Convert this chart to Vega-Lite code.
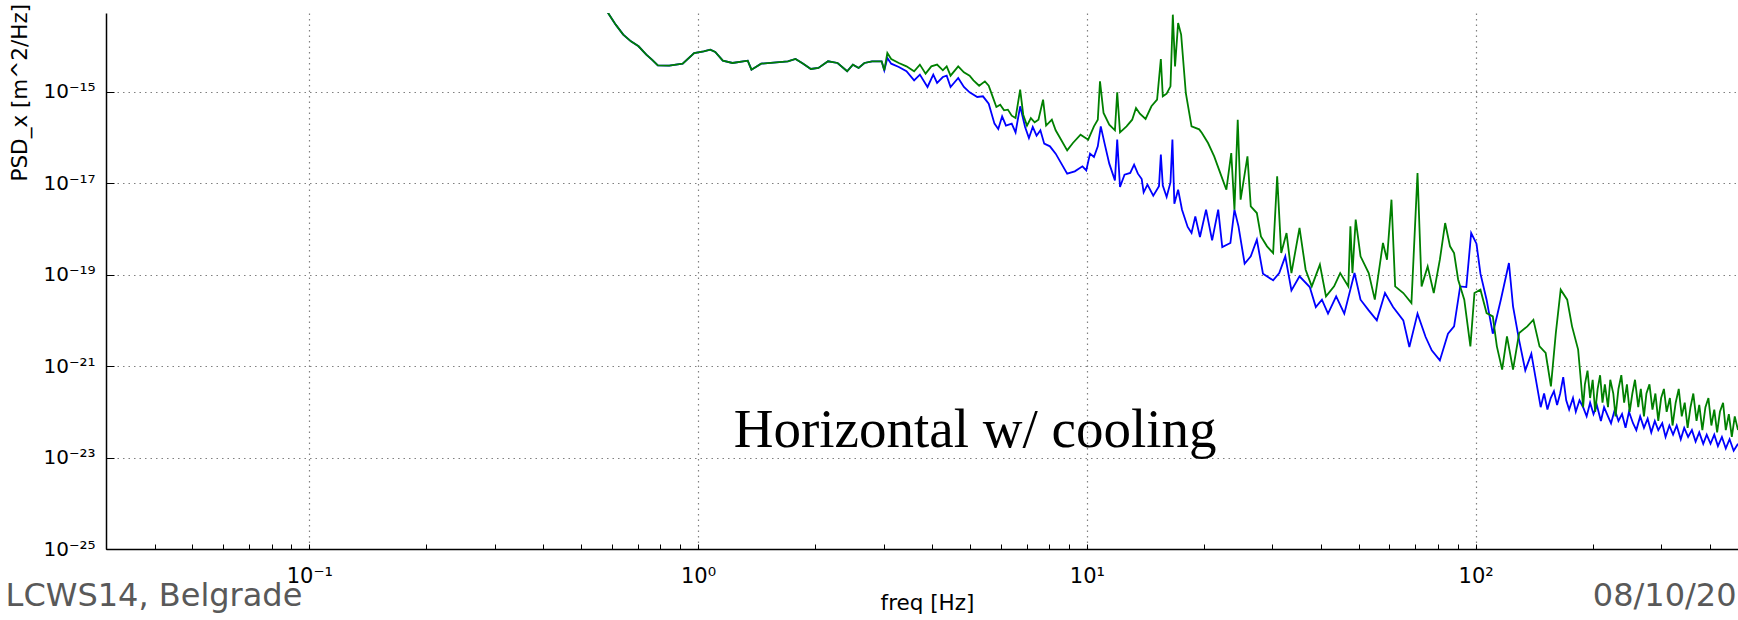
{
"$schema": "https://vega.github.io/schema/vega-lite/v6.json",
"width": 1632, "height": 536,
"autosize": {"type": "none"},
"padding": {"left": 106, "top": 13, "right": 0, "bottom": 71},
"background": "white",
"config": {"view": {"stroke": null}},
"datasets": {"psd": [
{"s":"c","f":0.567,"p":9.46e-14},{"s":"c","f":0.587,"p":5.25e-14},{"s":"c","f":0.614,"p":2.92e-14},{"s":"c","f":0.642,"p":1.77e-14},{"s":"c","f":0.672,"p":1.26e-14},{"s":"c","f":0.703,"p":9.82e-15},{"s":"c","f":0.736,"p":6.45e-15},{"s":"c","f":0.761,"p":5.01e-15},{"s":"c","f":0.788,"p":3.77e-15},{"s":"c","f":0.843,"p":3.71e-15},{"s":"c","f":0.913,"p":4.09e-15},{"s":"c","f":0.977,"p":7.01e-15},{"s":"c","f":1.034,"p":7.62e-15},{"s":"c","f":1.075,"p":8.30e-15},{"s":"c","f":1.107,"p":7.38e-15},{"s":"c","f":1.158,"p":4.77e-15},{"s":"c","f":1.226,"p":4.24e-15},{"s":"c","f":1.342,"p":4.77e-15},{"s":"c","f":1.372,"p":3.03e-15},{"s":"c","f":1.453,"p":4.09e-15},{"s":"c","f":1.590,"p":4.38e-15},{"s":"c","f":1.702,"p":4.61e-15},{"s":"c","f":1.781,"p":5.19e-15},{"s":"c","f":1.864,"p":4.09e-15},{"s":"c","f":1.950,"p":3.13e-15},{"s":"c","f":2.040,"p":3.30e-15},{"s":"c","f":2.159,"p":4.61e-15},{"s":"c","f":2.285,"p":4.24e-15},{"s":"c","f":2.418,"p":2.79e-15},{"s":"c","f":2.502,"p":3.90e-15},{"s":"c","f":2.588,"p":3.30e-15},{"s":"c","f":2.678,"p":4.24e-15},{"s":"c","f":2.803,"p":4.61e-15},{"s":"c","f":2.966,"p":4.61e-15},{"s":"c","f":3.013,"p":2.93e-15},
{"s":"g","f":3.068,"p":7.01e-15},{"s":"g","f":3.139,"p":5.19e-15},{"s":"g","f":3.284,"p":4.24e-15},{"s":"g","f":3.436,"p":3.58e-15},{"s":"g","f":3.595,"p":2.79e-15},{"s":"g","f":3.720,"p":3.90e-15},{"s":"g","f":3.848,"p":2.48e-15},{"s":"g","f":3.981,"p":3.58e-15},{"s":"g","f":4.119,"p":3.90e-15},{"s":"g","f":4.262,"p":2.93e-15},{"s":"g","f":4.360,"p":3.58e-15},{"s":"g","f":4.461,"p":2.24e-15},{"s":"g","f":4.668,"p":3.58e-15},{"s":"g","f":4.828,"p":2.65e-15},{"s":"g","f":4.994,"p":2.24e-15},{"s":"g","f":5.109,"p":1.77e-15},{"s":"g","f":5.284,"p":1.35e-15},{"s":"g","f":5.467,"p":1.68e-15},{"s":"g","f":5.592,"p":1.35e-15},{"s":"g","f":5.721,"p":7.91e-16},{"s":"g","f":5.852,"p":4.62e-16},{"s":"g","f":5.987,"p":5.20e-16},{"s":"g","f":6.124,"p":3.91e-16},{"s":"g","f":6.264,"p":4.05e-16},{"s":"g","f":6.409,"p":2.99e-16},{"s":"g","f":6.556,"p":2.65e-16},{"s":"g","f":6.737,"p":1.107e-15},{"s":"g","f":6.861,"p":3.14e-16},{"s":"g","f":7.015,"p":1.81e-16},{"s":"g","f":7.177,"p":2.65e-16},{"s":"g","f":7.341,"p":2.14e-16},{"s":"g","f":7.508,"p":2.44e-16},{"s":"g","f":7.716,"p":6.68e-16},{"s":"g","f":7.856,"p":1.81e-16},{"s":"g","f":8.128,"p":2.44e-16},{"s":"g","f":8.314,"p":1.43e-16},{"s":"g","f":8.506,"p":1.02e-16},{"s":"g","f":8.900,"p":5.21e-17},{"s":"g","f":9.207,"p":7.55e-17},{"s":"g","f":9.634,"p":1.148e-16},{"s":"g","f":10.08,"p":8.93e-17},{"s":"g","f":10.43,"p":1.746e-16},{"s":"g","f":10.67,"p":2.44e-16},{"s":"g","f":10.81,"p":1.68e-15},{"s":"g","f":11.04,"p":3.42e-16},{"s":"g","f":11.42,"p":1.90e-16},{"s":"g","f":11.81,"p":1.43e-16},{"s":"g","f":11.97,"p":9.68e-16},{"s":"g","f":12.17,"p":1.29e-16},{"s":"g","f":12.65,"p":1.746e-16},{"s":"g","f":13.08,"p":2.44e-16},{"s":"g","f":13.38,"p":4.40e-16},{"s":"g","f":13.69,"p":3.30e-16},{"s":"g","f":14.16,"p":2.53e-16},{"s":"g","f":14.66,"p":4.79e-16},{"s":"g","f":15.16,"p":6.68e-16},{"s":"g","f":15.50,"p":5.19e-15},{"s":"g","f":15.68,"p":7.91e-16},{"s":"g","f":16.04,"p":9.04e-16},{"s":"g","f":16.41,"p":1.31e-15},{"s":"g","f":16.64,"p":4.83e-14},{"s":"g","f":16.86,"p":3.58e-15},{"s":"g","f":17.17,"p":3.18e-14},{"s":"g","f":17.48,"p":1.766e-14},{"s":"g","f":17.97,"p":9.35e-16},{"s":"g","f":18.59,"p":1.746e-16},{"s":"g","f":19.45,"p":1.5e-16},{"s":"g","f":19.77,"p":1.25e-16},{"s":"g","f":20.50,"p":7.53e-17},{"s":"g","f":21.26,"p":3.85e-17},{"s":"g","f":22.04,"p":1.66e-17},{"s":"g","f":22.85,"p":7.19e-18},{"s":"g","f":23.52,"p":4.56e-17},{"s":"g","f":23.97,"p":2.63e-18},{"s":"g","f":24.44,"p":2.44e-16},{"s":"g","f":24.86,"p":4.35e-18},{"s":"g","f":25.89,"p":3.85e-17},{"s":"g","f":26.40,"p":3.11e-18},{"s":"g","f":27.37,"p":2.22e-18},{"s":"g","f":28.04,"p":6.86e-19},{"s":"g","f":29.07,"p":4.15e-19},{"s":"g","f":30.14,"p":2.96e-19},{"s":"g","f":30.87,"p":1.41e-17},{"s":"g","f":31.62,"p":2.96e-19},{"s":"g","f":32.63,"p":8.11e-19},{"s":"g","f":33.59,"p":1.08e-19},{"s":"g","f":35.24,"p":1.045e-18},{"s":"g","f":36.54,"p":1.28e-19},{"s":"g","f":37.89,"p":5.53e-20},{"s":"g","f":39.76,"p":1.65e-19},{"s":"g","f":41.22,"p":3.34e-20},{"s":"g","f":43.25,"p":5.53e-20},{"s":"g","f":44.84,"p":1.08e-19},{"s":"g","f":47.05,"p":5.53e-20},{"s":"g","f":47.63,"p":1.135e-18},{"s":"g","f":48.21,"p":1.08e-19},{"s":"g","f":49.15,"p":1.59e-18},{"s":"g","f":50.58,"p":2.51e-19},{"s":"g","f":53.09,"p":1.08e-19},{"s":"g","f":55.04,"p":2.83e-20},{"s":"g","f":57.76,"p":4.91e-19},{"s":"g","f":59.16,"p":2.12e-19},{"s":"g","f":60.75,"p":4.35e-18},{"s":"g","f":62.09,"p":5.53e-20},{"s":"g","f":65.16,"p":3.95e-20},{"s":"g","f":68.37,"p":2.39e-20},{"s":"g","f":70.88,"p":1.66e-17},{"s":"g","f":72.61,"p":5.53e-20},{"s":"g","f":75.27,"p":1.51e-19},{"s":"g","f":78.04,"p":3.95e-20},{"s":"g","f":80.91,"p":2.12e-19},{"s":"g","f":83.48,"p":1.34e-18},{"s":"g","f":85.93,"p":4.15e-19},{"s":"g","f":88.02,"p":2.96e-19},{"s":"g","f":90.17,"p":7.74e-20},{"s":"g","f":93.50,"p":2.83e-20},{"s":"g","f":96.94,"p":2.70e-21},{"s":"g","f":99.31,"p":3.95e-20},{"s":"g","f":102.9,"p":4.68e-20},{"s":"g","f":106.7,"p":1.445e-20},{"s":"g","f":110.7,"p":1.22e-20},{"s":"g","f":113.4,"p":2.70e-21},{"s":"g","f":117.0,"p":8.34e-22},{"s":"g","f":120.4,"p":4.47e-21},{"s":"g","f":124.8,"p":8.34e-22},{"s":"g","f":129.4,"p":5.28e-21},{"s":"g","f":135.8,"p":7.38e-21},{"s":"g","f":140.8,"p":1.03e-20},{"s":"g","f":146.0,"p":2.70e-21},{"s":"g","f":151.4,"p":1.93e-21},{"s":"g","f":156.2,"p":3.60e-22},{"s":"g","f":160.8,"p":5.28e-21},{"s":"g","f":165.5,"p":4.68e-20},{"s":"g","f":172.0,"p":2.83e-20},{"s":"g","f":177.0,"p":7.38e-21},{"s":"g","f":183.5,"p":2.29e-21},
{"s":"g","f":186,"p":6.31e-22},{"s":"g","f":189,"p":1.26e-22},{"s":"g","f":191,"p":3.98e-22},{"s":"g","f":194,"p":7.94e-22},{"s":"g","f":197,"p":2.0e-22},{"s":"g","f":200,"p":5.01e-22},{"s":"g","f":203,"p":1.0e-22},{"s":"g","f":206,"p":3.16e-22},{"s":"g","f":209,"p":6.31e-22},{"s":"g","f":212,"p":1.58e-22},{"s":"g","f":215,"p":3.98e-22},{"s":"g","f":219,"p":1.26e-22},{"s":"g","f":222,"p":5.01e-22},{"s":"g","f":226,"p":2.51e-22},{"s":"g","f":229,"p":7.94e-23},{"s":"g","f":233,"p":3.16e-22},{"s":"g","f":237,"p":6.31e-22},{"s":"g","f":241,"p":1.58e-22},{"s":"g","f":245,"p":3.98e-22},{"s":"g","f":249,"p":1.0e-22},{"s":"g","f":253,"p":2.51e-22},{"s":"g","f":257,"p":5.01e-22},{"s":"g","f":262,"p":1.26e-22},{"s":"g","f":266,"p":3.16e-22},{"s":"g","f":271,"p":7.94e-23},{"s":"g","f":275,"p":2.51e-22},{"s":"g","f":280,"p":3.98e-22},{"s":"g","f":285,"p":1.12e-22},{"s":"g","f":290,"p":2.51e-22},{"s":"g","f":295,"p":6.31e-23},{"s":"g","f":300,"p":2.0e-22},{"s":"g","f":305,"p":3.16e-22},{"s":"g","f":310,"p":1.0e-22},{"s":"g","f":316,"p":2.0e-22},{"s":"g","f":321,"p":5.01e-23},{"s":"g","f":327,"p":1.58e-22},{"s":"g","f":333,"p":3.16e-22},{"s":"g","f":339,"p":7.94e-23},{"s":"g","f":345,"p":1.58e-22},{"s":"g","f":351,"p":4.47e-23},{"s":"g","f":357,"p":1.26e-22},{"s":"g","f":363,"p":2.51e-22},{"s":"g","f":370,"p":6.31e-23},{"s":"g","f":376,"p":1.41e-22},{"s":"g","f":383,"p":3.98e-23},{"s":"g","f":390,"p":1.26e-22},{"s":"g","f":397,"p":2.0e-22},{"s":"g","f":404,"p":5.01e-23},{"s":"g","f":411,"p":1.12e-22},{"s":"g","f":418,"p":3.55e-23},{"s":"g","f":425,"p":1.0e-22},{"s":"g","f":433,"p":1.58e-22},{"s":"g","f":440,"p":3.98e-23},{"s":"g","f":448,"p":8.91e-23},{"s":"g","f":456,"p":2.82e-23},{"s":"g","f":464,"p":7.94e-23},{"s":"g","f":473,"p":3.98e-23},
{"s":"b","f":3.068,"p":5.45e-15},{"s":"b","f":3.139,"p":4.09e-15},{"s":"b","f":3.284,"p":3.46e-15},{"s":"b","f":3.436,"p":2.79e-15},{"s":"b","f":3.595,"p":1.77e-15},{"s":"b","f":3.720,"p":2.36e-15},{"s":"b","f":3.892,"p":1.265e-15},{"s":"b","f":4.027,"p":2.36e-15},{"s":"b","f":4.119,"p":1.55e-15},{"s":"b","f":4.262,"p":2.09e-15},{"s":"b","f":4.360,"p":2.24e-15},{"s":"b","f":4.461,"p":1.265e-15},{"s":"b","f":4.668,"p":1.99e-15},{"s":"b","f":4.828,"p":1.265e-15},{"s":"b","f":4.994,"p":9.68e-16},{"s":"b","f":5.225,"p":7.66e-16},{"s":"b","f":5.405,"p":7.91e-16},{"s":"b","f":5.592,"p":5.47e-16},{"s":"b","f":5.786,"p":2.00e-16},{"s":"b","f":5.918,"p":1.53e-16},{"s":"b","f":6.055,"p":2.89e-16},{"s":"b","f":6.194,"p":1.81e-16},{"s":"b","f":6.409,"p":2.00e-16},{"s":"b","f":6.556,"p":1.29e-16},{"s":"b","f":6.737,"p":4.79e-16},{"s":"b","f":6.937,"p":1.69e-16},{"s":"b","f":7.096,"p":9.70e-17},{"s":"b","f":7.259,"p":1.69e-16},{"s":"b","f":7.425,"p":1.09e-16},{"s":"b","f":7.595,"p":1.43e-16},{"s":"b","f":7.769,"p":7.30e-17},{"s":"b","f":8.036,"p":6.38e-17},{"s":"b","f":8.314,"p":4.41e-17},{"s":"b","f":8.601,"p":2.67e-17},{"s":"b","f":8.900,"p":1.61e-17},{"s":"b","f":9.311,"p":1.81e-17},{"s":"b","f":9.743,"p":2.33e-17},{"s":"b","f":9.966,"p":1.905e-17},{"s":"b","f":10.19,"p":4.41e-17},{"s":"b","f":10.43,"p":3.72e-17},{"s":"b","f":10.67,"p":6.38e-17},{"s":"b","f":10.86,"p":1.746e-16},{"s":"b","f":11.11,"p":7.30e-17},{"s":"b","f":11.42,"p":2.67e-17},{"s":"b","f":11.81,"p":1.15e-17},{"s":"b","f":11.97,"p":8.93e-17},{"s":"b","f":12.17,"p":8.22e-18},{"s":"b","f":12.50,"p":1.53e-17},{"s":"b","f":12.93,"p":1.67e-17},{"s":"b","f":13.23,"p":2.54e-17},{"s":"b","f":13.53,"p":1.61e-17},{"s":"b","f":13.84,"p":1.23e-17},{"s":"b","f":14.00,"p":6.29e-18},{"s":"b","f":14.32,"p":9.25e-18},{"s":"b","f":14.82,"p":5.32e-18},{"s":"b","f":15.33,"p":8.51e-18},{"s":"b","f":15.50,"p":4.20e-17},{"s":"b","f":15.68,"p":8.81e-18},{"s":"b","f":16.04,"p":4.98e-18},{"s":"b","f":16.41,"p":1.04e-17},{"s":"b","f":16.60,"p":8.93e-17},{"s":"b","f":16.79,"p":3.56e-18},{"s":"b","f":17.17,"p":7.19e-18},{"s":"b","f":17.57,"p":2.63e-18},{"s":"b","f":18.17,"p":1.10e-18},{"s":"b","f":18.59,"p":8.13e-19},{"s":"b","f":19.01,"p":1.88e-18},{"s":"b","f":19.54,"p":6.64e-19},{"s":"b","f":20.26,"p":2.63e-18},{"s":"b","f":21.00,"p":5.61e-19},{"s":"b","f":21.77,"p":2.63e-18},{"s":"b","f":22.30,"p":4.01e-19},{"s":"b","f":23.40,"p":4.91e-19},{"s":"b","f":23.97,"p":2.63e-18},{"s":"b","f":24.55,"p":1.135e-18},{"s":"b","f":25.46,"p":1.73e-19},{"s":"b","f":26.40,"p":2.51e-19},{"s":"b","f":27.37,"p":5.81e-19},{"s":"b","f":28.38,"p":1.05e-19},{"s":"b","f":30.14,"p":7.48e-20},{"s":"b","f":31.25,"p":1.08e-19},{"s":"b","f":32.39,"p":2.51e-19},{"s":"b","f":33.59,"p":4.53e-20},{"s":"b","f":35.24,"p":9.16e-20},{"s":"b","f":37.44,"p":5.35e-20},{"s":"b","f":38.81,"p":1.95e-20},{"s":"b","f":40.24,"p":2.83e-20},{"s":"b","f":41.72,"p":1.40e-20},{"s":"b","f":43.78,"p":3.34e-20},{"s":"b","f":45.94,"p":1.40e-20},{"s":"b","f":48.81,"p":1.08e-19},{"s":"b","f":50.58,"p":2.83e-20},{"s":"b","f":53.09,"p":1.65e-20},{"s":"b","f":55.70,"p":1.00e-20},{"s":"b","f":58.46,"p":3.95e-20},{"s":"b","f":61.33,"p":1.95e-20},{"s":"b","f":65.16,"p":1.00e-20},{"s":"b","f":67.54,"p":2.61e-21},{"s":"b","f":70.88,"p":1.40e-20},{"s":"b","f":74.37,"p":4.32e-21},{"s":"b","f":77.11,"p":2.21e-21},{"s":"b","f":80.91,"p":1.33e-21},{"s":"b","f":84.90,"p":5.11e-21},{"s":"b","f":88.02,"p":7.38e-21},{"s":"b","f":91.26,"p":5.53e-20},{"s":"b","f":94.62,"p":5.35e-20},{"s":"b","f":97.40,"p":8.11e-19},{"s":"b","f":100.5,"p":4.74e-19},{"s":"b","f":102.9,"p":1.05e-19},{"s":"b","f":106.7,"p":2.83e-20},{"s":"b","f":110.7,"p":5.11e-21},{"s":"b","f":116.1,"p":2.83e-20},{"s":"b","f":121.8,"p":1.79e-19},{"s":"b","f":124.8,"p":2.02e-20},{"s":"b","f":129.4,"p":3.65e-21},{"s":"b","f":134.2,"p":8.05e-22},{"s":"b","f":139.1,"p":1.87e-21},
{"s":"b","f":144,"p":3.47e-22},{"s":"b","f":147,"p":1.26e-22},{"s":"b","f":150,"p":2.51e-22},{"s":"b","f":153,"p":1.12e-22},{"s":"b","f":156,"p":2.0e-22},{"s":"b","f":159,"p":2.82e-22},{"s":"b","f":162,"p":1.41e-22},{"s":"b","f":165,"p":2.51e-22},{"s":"b","f":168,"p":5.75e-22},{"s":"b","f":171,"p":1.78e-22},{"s":"b","f":174,"p":1.12e-22},{"s":"b","f":178,"p":2.0e-22},{"s":"b","f":181,"p":1.0e-22},{"s":"b","f":185,"p":1.78e-22},{"s":"b","f":189,"p":1.26e-22},{"s":"b","f":193,"p":7.94e-23},{"s":"b","f":197,"p":1.58e-22},{"s":"b","f":201,"p":8.91e-23},{"s":"b","f":205,"p":1.41e-22},{"s":"b","f":210,"p":6.31e-23},{"s":"b","f":214,"p":1.26e-22},{"s":"b","f":219,"p":7.94e-23},{"s":"b","f":223,"p":5.62e-23},{"s":"b","f":228,"p":1.12e-22},{"s":"b","f":233,"p":6.31e-23},{"s":"b","f":238,"p":8.91e-23},{"s":"b","f":243,"p":4.47e-23},{"s":"b","f":248,"p":1.0e-22},{"s":"b","f":254,"p":5.62e-23},{"s":"b","f":259,"p":3.98e-23},{"s":"b","f":265,"p":7.94e-23},{"s":"b","f":271,"p":4.47e-23},{"s":"b","f":277,"p":7.08e-23},{"s":"b","f":283,"p":3.55e-23},{"s":"b","f":289,"p":6.31e-23},{"s":"b","f":295,"p":3.98e-23},{"s":"b","f":302,"p":5.62e-23},{"s":"b","f":308,"p":2.82e-23},{"s":"b","f":315,"p":5.01e-23},{"s":"b","f":322,"p":3.16e-23},{"s":"b","f":329,"p":5.01e-23},{"s":"b","f":337,"p":2.51e-23},{"s":"b","f":344,"p":4.47e-23},{"s":"b","f":352,"p":2.82e-23},{"s":"b","f":360,"p":3.98e-23},{"s":"b","f":368,"p":2.24e-23},{"s":"b","f":376,"p":3.55e-23},{"s":"b","f":385,"p":2.0e-23},{"s":"b","f":393,"p":3.16e-23},{"s":"b","f":402,"p":2.0e-23},{"s":"b","f":411,"p":3.16e-23},{"s":"b","f":420,"p":1.78e-23},{"s":"b","f":430,"p":2.82e-23},{"s":"b","f":440,"p":1.58e-23},{"s":"b","f":450,"p":2.51e-23},{"s":"b","f":461,"p":1.41e-23},{"s":"b","f":473,"p":2.0e-23}
]},
"layer": [
{
"data": {"name": "psd"},
"transform": [{"filter": "datum.s != 'g'"}],
"mark": {"type": "line", "color": "#0000ff", "strokeWidth": 1.8, "clip": true},
"encoding": {
"x": {"field": "f", "type": "quantitative", "scale": {"type": "log", "domain": [0.03, 473], "nice": false},
"axis": {"values": [0.03,0.04,0.05,0.06,0.07,0.08,0.09,0.1,0.2,0.3,0.4,0.5,0.6,0.7,0.8,0.9,1,2,3,4,5,6,7,8,9,10,20,30,40,50,60,70,80,90,100,200,300,400],
"labelExpr": "datum.value == 0.1 ? '10⁻¹' : datum.value == 1 ? '10⁰' : datum.value == 10 ? '10¹' : datum.value == 100 ? '10²' : ''",
"grid": true, "gridColor": "#808080", "gridDash": [1.5, 4], "gridWidth": 1.2,
"gridOpacity": {"condition": {"test": "datum.value == 0.1 || datum.value == 1 || datum.value == 10 || datum.value == 100", "value": 1}, "value": 0},
"tickSize": -5, "tickColor": "#000000", "tickWidth": 1,
"domainColor": "#000000", "domainWidth": 1.5,
"labelFont": "DejaVu Sans", "labelFontSize": 21, "labelColor": "#000000", "labelBaseline": "alphabetic", "labelPadding": 38, "labelFlush": false, "labelOverlap": false,
"title": "freq [Hz]", "titleFont": "DejaVu Sans", "titleFontSize": 21.5, "titleFontWeight": "normal", "titleColor": "#000000", "titleX": 821, "titleY": 60, "titleBaseline": "alphabetic"}},
"y": {"field": "p", "type": "quantitative", "scale": {"type": "log", "domain": [1e-25, 5.25e-14], "nice": false},
"axis": {"values": [1e-25, 1e-23, 1e-21, 1e-19, 1e-17, 1e-15],
"labelExpr": "round(log(datum.value)/LN10) == -25 ? '10⁻²⁵' : round(log(datum.value)/LN10) == -23 ? '10⁻²³' : round(log(datum.value)/LN10) == -21 ? '10⁻²¹' : round(log(datum.value)/LN10) == -19 ? '10⁻¹⁹' : round(log(datum.value)/LN10) == -17 ? '10⁻¹⁷' : '10⁻¹⁵'",
"grid": true, "gridColor": "#808080", "gridDash": [1.5, 4], "gridWidth": 1.2,
"tickSize": -8, "tickColor": "#000000",
"domainColor": "#000000", "domainWidth": 1.5,
"labelFont": "DejaVu Sans", "labelFontSize": 20, "labelColor": "#000000", "labelBaseline": "middle", "labelPadding": 19, "labelFlush": false, "labelOverlap": false,
"title": "PSD_x [m^2/Hz]", "titleFont": "DejaVu Sans", "titleFontSize": 21.5, "titleFontWeight": "normal", "titleColor": "#000000", "titleAngle": -90, "titleX": -86, "titleY": 168, "titleAlign": "left", "titleBaseline": "middle"}}
}
},
{
"data": {"name": "psd"},
"transform": [{"filter": "datum.s != 'b'"}],
"mark": {"type": "line", "color": "#008000", "strokeWidth": 1.8, "clip": true},
"encoding": {"x": {"field": "f", "type": "quantitative"}, "y": {"field": "p", "type": "quantitative"}}
},
{
"data": {"values": [{"label": "Horizontal w/ cooling"}]},
"mark": {"type": "text", "font": "Liberation Serif", "fontSize": 55, "color": "#000000", "align": "center", "baseline": "alphabetic"},
"encoding": {"x": {"datum": 5.16, "type": "quantitative"}, "y": {"datum": 1.73e-23, "type": "quantitative"}, "text": {"field": "label"}}
},
{
"data": {"values": [{"label": "LCWS14, Belgrade"}]},
"mark": {"type": "text", "font": "DejaVu Sans", "fontSize": 32, "color": "#595959", "align": "left", "baseline": "alphabetic"},
"encoding": {"x": {"datum": 0.01655, "type": "quantitative"}, "y": {"datum": 5.75e-27, "type": "quantitative"}, "text": {"field": "label"}}
},
{
"data": {"values": [{"label": "08/10/2014"}]},
"mark": {"type": "text", "font": "DejaVu Sans", "fontSize": 32, "color": "#595959", "align": "left", "baseline": "alphabetic"},
"encoding": {"x": {"datum": 200.2, "type": "quantitative"}, "y": {"datum": 5.75e-27, "type": "quantitative"}, "text": {"field": "label"}}
}
]
}
